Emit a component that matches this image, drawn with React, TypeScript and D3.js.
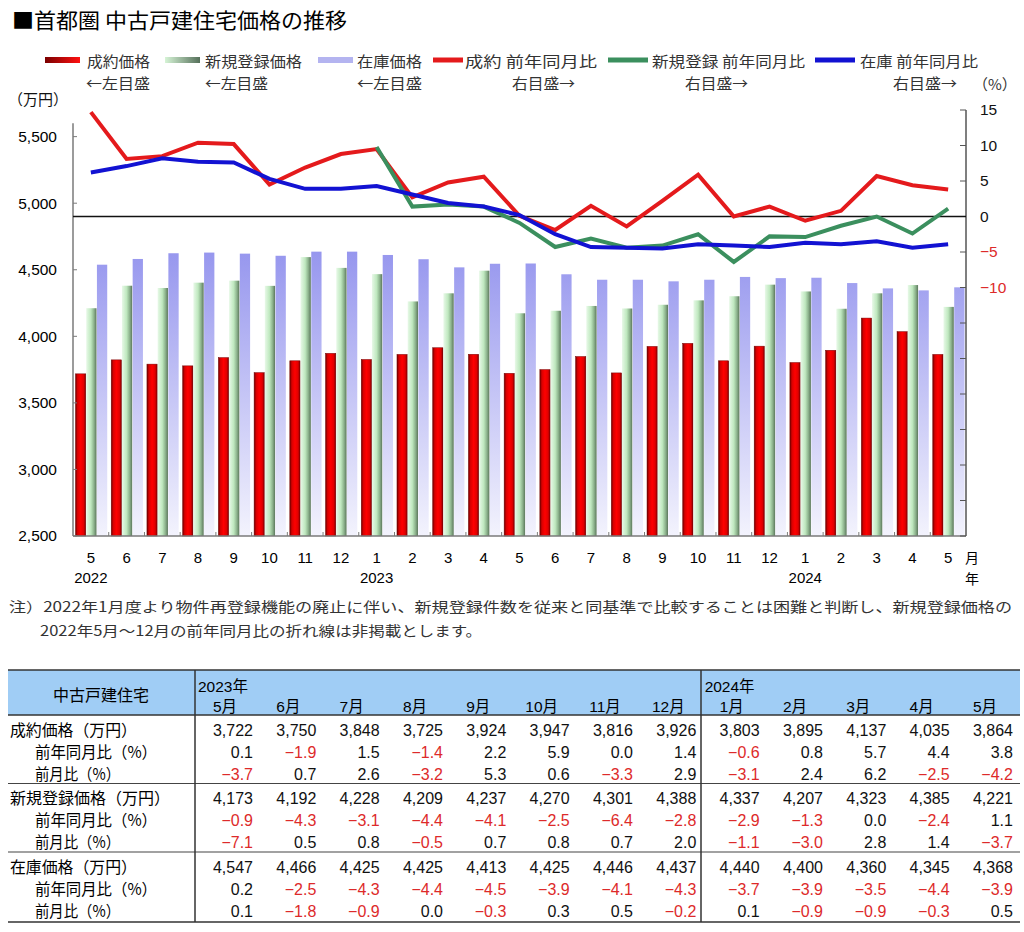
import React, { useRef, useEffect } from "react";
import { select, scaleLinear, scaleBand, line, format } from "d3";

// x categories: 2022/5 .. 2024/5
const months = ["5", "6", "7", "8", "9", "10", "11", "12", "1", "2", "3", "4", "5", "6", "7", "8", "9", "10", "11", "12", "1", "2", "3", "4", "5"];
const yearTicks: [number, string][] = [[0, "2022"], [8, "2023"], [20, "2024"]];

// prices (万円), left axis
const contractPrice = [3718, 3823, 3791, 3778, 3840, 3727, 3816, 3872, 3826, 3864, 3914, 3865, 3722, 3750, 3848, 3725, 3924, 3947, 3816, 3926, 3803, 3895, 4137, 4035, 3864];
const newListingPrice = [4211, 4380, 4363, 4403, 4418, 4379, 4595, 4514, 4467, 4262, 4323, 4493, 4173, 4192, 4228, 4209, 4237, 4270, 4301, 4388, 4337, 4207, 4323, 4385, 4221];
const stockPrice = [4538, 4581, 4624, 4629, 4621, 4605, 4636, 4636, 4611, 4579, 4518, 4545, 4547, 4466, 4425, 4425, 4413, 4425, 4446, 4437, 4440, 4400, 4360, 4345, 4368];

// year-on-year (%), right axis
const contractYoY = [14.7, 8.1, 8.5, 10.4, 10.2, 4.5, 6.9, 8.8, 9.5, 2.7, 4.8, 5.6, 0.1, -1.9, 1.5, -1.4, 2.2, 5.9, 0.0, 1.4, -0.6, 0.8, 5.7, 4.4, 3.8];
const newListingYoY = [null, null, null, null, null, null, null, null, 9.8, 1.4, 1.7, 1.4, -0.9, -4.3, -3.1, -4.4, -4.1, -2.5, -6.4, -2.8, -2.9, -1.3, 0.0, -2.4, 1.1];
const stockYoY = [6.2, 7.1, 8.2, 7.7, 7.6, 5.3, 3.9, 3.9, 4.3, 3.1, 1.9, 1.4, 0.2, -2.5, -4.3, -4.4, -4.5, -3.9, -4.1, -4.3, -3.7, -3.9, -3.5, -4.4, -3.9];

// month-on-month (%), table only
const contractMoM = [-3.7, 0.7, 2.6, -3.2, 5.3, 0.6, -3.3, 2.9, -3.1, 2.4, 6.2, -2.5, -4.2];
const newListingMoM = [-7.1, 0.5, 0.8, -0.5, 0.7, 0.8, 0.7, 2.0, -1.1, -3.0, 2.8, 1.4, -3.7];
const stockMoM = [0.1, -1.8, -0.9, 0.0, -0.3, 0.3, 0.5, -0.2, 0.1, -0.9, -0.9, -0.3, 0.5];

const tableMonths = ["5月", "6月", "7月", "8月", "9月", "10月", "11月", "12月", "1月", "2月", "3月", "4月", "5月"];
const tableYears: [number, string][] = [[0, "2023年"], [8, "2024年"]];

const jp = "'Noto Sans CJK JP', 'Noto Sans', sans-serif";
const num = "'Liberation Sans', Arial, sans-serif";
const RED = "#e41a1c";
const GREEN = "#3b8f5e";
const BLUE = "#1212d2";
const NEG = "#dd2a2a";

const left = 73, right = 966, top = 110, bottom = 536;

const App = () => {
  const svgRef = useRef<SVGSVGElement>(null);

  useEffect(() => {
    const svg = select(svgRef.current);
    const g = svg.select(".chart");
    g.selectAll("*").remove();

    const x = scaleBand<number>().domain(months.map((_, i) => i)).range([left, right]);
    const bw = x.bandwidth();
    const inner = scaleBand<number>().domain([0, 1, 2]).range([2.5, bw - 1.5]).paddingInner(0.04);
    const yL = scaleLinear().domain([2500, 5700]).range([bottom, top]);
    const yR = scaleLinear().domain([-45, 15]).range([bottom, top]);

    // bars
    const series = [
      { values: contractPrice, fill: "url(#gRed)", stroke: "#700" },
      { values: newListingPrice, fill: "url(#gGreen)", stroke: "none" },
      { values: stockPrice, fill: "url(#gBlue)", stroke: "none" },
    ];
    series.forEach((s, k) => {
      g.append("g")
        .selectAll("rect")
        .data(s.values)
        .join("rect")
        .attr("x", (d, i) => (x(i) as number) + (inner(k) as number))
        .attr("width", inner.bandwidth())
        .attr("y", d => yL(d))
        .attr("height", d => bottom - yL(d))
        .attr("fill", s.fill)
        .attr("stroke", s.stroke)
        .attr("stroke-width", 0.5);
    });

    // x axis
    g.append("line").attr("x1", left).attr("x2", right).attr("y1", bottom).attr("y2", bottom)
      .attr("stroke", "#7a7a7a").attr("stroke-width", 1.5);
    g.append("g").selectAll("line").data(months.map((_, i) => i).slice(1))
      .join("line")
      .attr("x1", i => x(i) as number).attr("x2", i => x(i) as number)
      .attr("y1", bottom - 4).attr("y2", bottom)
      .attr("stroke", "#7a7a7a");
    g.append("g").selectAll("text").data(months)
      .join("text")
      .attr("x", (d, i) => (x(i) as number) + bw / 2)
      .attr("y", 563)
      .attr("text-anchor", "middle")
      .attr("font-family", num).attr("font-size", 15)
      .text(d => d);
    g.append("g").selectAll("text").data(yearTicks)
      .join("text")
      .attr("x", d => (x(d[0]) as number) + bw / 2)
      .attr("y", 583)
      .attr("text-anchor", "middle")
      .attr("font-family", num).attr("font-size", 15)
      .text(d => d[1]);

    // left axis
    g.append("line").attr("x1", left).attr("x2", left).attr("y1", yL(5600)).attr("y2", bottom)
      .attr("stroke", "#7a7a7a").attr("stroke-width", 1.5);
    const lt = g.append("g").selectAll("g").data(yL.ticks(7)).join("g")
      .attr("transform", d => `translate(0,${yL(d)})`);
    lt.append("line").attr("x1", left).attr("x2", left + 4).attr("stroke", "#7a7a7a");
    lt.append("text").attr("x", 57).attr("dy", "0.35em").attr("text-anchor", "end")
      .attr("font-family", num).attr("font-size", 15.5)
      .text(d => format(",")(d));

    // right axis
    g.append("line").attr("x1", right).attr("x2", right).attr("y1", top).attr("y2", bottom)
      .attr("stroke", "#555").attr("stroke-width", 1.5);
    const rt = g.append("g").selectAll("g").data(yR.ticks(12)).join("g")
      .attr("transform", d => `translate(0,${yR(d)})`);
    rt.append("line").attr("x1", right - 6).attr("x2", right).attr("stroke", "#555");
    rt.filter(d => d >= -10).append("text").attr("x", 980).attr("dy", "0.35em")
      .attr("font-family", num).attr("font-size", 15.5)
      .attr("fill", d => (d < 0 ? NEG : "#111"))
      .text(d => format("")(d));

    // zero line
    g.append("line").attr("x1", left).attr("x2", right).attr("y1", yR(0)).attr("y2", yR(0))
      .attr("stroke", "#111").attr("stroke-width", 1.5);

    // yoy lines
    const yoyLine = line<number | null>()
      .defined(d => d != null)
      .x((d, i) => (x(i) as number) + bw / 2)
      .y(d => yR(d as number));
    [
      { values: contractYoY, color: RED },
      { values: newListingYoY, color: GREEN },
      { values: stockYoY, color: BLUE },
    ].forEach(s => {
      g.append("path")
        .datum(s.values)
        .attr("d", yoyLine)
        .attr("fill", "none")
        .attr("stroke", s.color)
        .attr("stroke-width", 4)
        .attr("stroke-linejoin", "miter");
    });
  }, []);

  const fmtInt = format(",");
  const fmtPct = format(".1f");
  const colRight = (i: number) => 253 + i * 63.33;
  const tableGroups = [
    { label: "成約価格（万円）", price: contractPrice.slice(12), yoy: contractYoY.slice(12), mom: contractMoM },
    { label: "新規登録価格（万円）", price: newListingPrice.slice(12), yoy: (newListingYoY.slice(12) as number[]), mom: newListingMoM },
    { label: "在庫価格（万円）", price: stockPrice.slice(12), yoy: stockYoY.slice(12), mom: stockMoM },
  ];

  const legendTop = [
    { sx: 45, sw: 35, kind: "bar", fill: "url(#lgRed)", text: "成約価格", tx: 87, tl: 63, sub: "←左目盛", ux: 86, ul: 64 },
    { sx: 165, sw: 35, kind: "bar", fill: "url(#lgGreen)", text: "新規登録価格", tx: 205, tl: 97, sub: "←左目盛", ux: 205, ul: 63 },
    { sx: 318, sw: 35, kind: "bar", fill: "#b4b4f0", text: "在庫価格", tx: 357, tl: 65, sub: "←左目盛", ux: 357, ul: 65 },
    { sx: 433, sw: 30, kind: "line", fill: RED, text: "成約 前年同月比", tx: 465, tl: 132, sub: "右目盛→", ux: 512, ul: 63 },
    { sx: 608, sw: 40, kind: "line", fill: GREEN, text: "新規登録 前年同月比", tx: 652, tl: 153, sub: "右目盛→", ux: 685, ul: 63 },
    { sx: 815, sw: 40, kind: "line", fill: BLUE, text: "在庫 前年同月比", tx: 860, tl: 118, sub: "右目盛→", ux: 893, ul: 64 },
  ];

  return (
    <svg ref={svgRef} width={1024} height={932} style={{ position: "absolute", left: 0, top: 0, background: "#fff" }}>
      <defs>
        <linearGradient id="gRed" x1="0" x2="1" y1="0" y2="0">
          <stop offset="0" stopColor="#6a0000" />
          <stop offset="0.2" stopColor="#d80000" />
          <stop offset="0.5" stopColor="#ff0000" />
          <stop offset="0.8" stopColor="#e00000" />
          <stop offset="1" stopColor="#7a0000" />
        </linearGradient>
        <linearGradient id="gGreen" x1="0" x2="1" y1="0" y2="0">
          <stop offset="0" stopColor="#e8f9e8" />
          <stop offset="0.45" stopColor="#bfe8bf" />
          <stop offset="0.75" stopColor="#8db38d" />
          <stop offset="1" stopColor="#5b765c" />
        </linearGradient>
        <linearGradient id="gBlue" gradientUnits="userSpaceOnUse" x1="0" x2="0" y1="250" y2="536">
          <stop offset="0" stopColor="#9696ee" />
          <stop offset="1" stopColor="#f3f3fd" />
        </linearGradient>
        <linearGradient id="lgRed" x1="0" x2="1" y1="0" y2="0">
          <stop offset="0" stopColor="#7a0000" />
          <stop offset="1" stopColor="#ff1010" />
        </linearGradient>
        <linearGradient id="lgGreen" x1="0" x2="1" y1="0" y2="0">
          <stop offset="0" stopColor="#d6f4d6" />
          <stop offset="1" stopColor="#55705a" />
        </linearGradient>
      </defs>

      <text x={12} y={28} fontFamily={jp} fontSize={21} fontWeight={400} textLength={335} lengthAdjust="spacingAndGlyphs">■首都圏 中古戸建住宅価格の推移</text>

      {legendTop.map((l, i) => (
        <g key={i}>
          {l.kind === "bar"
            ? <rect x={l.sx} y={57} width={l.sw} height={6} fill={l.fill} />
            : <line x1={l.sx} x2={l.sx + l.sw} y1={60} y2={60} stroke={l.fill} strokeWidth={5} />}
          <text x={l.tx} y={67} fontFamily={jp} fontSize={15} fill="#333" textLength={l.tl} lengthAdjust="spacingAndGlyphs">{l.text}</text>
          <text x={l.ux} y={89} fontFamily={jp} fontSize={15} fill="#333" textLength={l.ul} lengthAdjust="spacingAndGlyphs">{l.sub}</text>
        </g>
      ))}
      <text x={973} y={90} fontFamily={jp} fontSize={15} fill="#333">（%）</text>
      <text x={8} y={105} fontFamily={jp} fontSize={15} fill="#111">（万円）</text>

      <g className="chart" />

      <text x={965} y={563} fontFamily={jp} fontSize={14}>月</text>
      <text x={965} y={584} fontFamily={jp} fontSize={14}>年</text>

      <text x={9} y={612} fontFamily={jp} fontSize={14} fill="#333" textLength={1003} lengthAdjust="spacingAndGlyphs">注）2022年1月度より物件再登録機能の廃止に伴い、新規登録件数を従来と同基準で比較することは困難と判断し、新規登録価格の</text>
      <text x={40} y={636} fontFamily={jp} fontSize={14} fill="#333" textLength={442} lengthAdjust="spacingAndGlyphs">2022年5月～12月の前年同月比の折れ線は非掲載とします。</text>

      {/* table */}
      <rect x={8} y={670} width={1012} height={45} fill="#a0cdf5" />
      <text x={101} y={701} textAnchor="middle" fontFamily={jp} fontSize={16}>中古戸建住宅</text>
      {tableYears.map(([i, t]) => (
        <text key={t} x={colRight(i) - 55} y={692} fontFamily={num} fontSize={15.5}>
          {t.slice(0, 4)}<tspan fontFamily={jp}>{t.slice(4)}</tspan>
        </text>
      ))}
      {tableMonths.map((m, i) => (
        <text key={i} x={colRight(i) - 28} y={712} textAnchor="middle" fontFamily={num} fontSize={15.5}>
          {m.slice(0, -1)}<tspan fontFamily={jp}>月</tspan>
        </text>
      ))}
      {tableGroups.map((grp, gi) => {
        const y0 = 715 + gi * 68.5;
        const rows = [
          { label: grp.label, lx: 10, lw: gi === 1 ? 160 : 127, vals: grp.price, pct: false },
          { label: "前年同月比（%）", lx: 35, lw: 122, vals: grp.yoy, pct: true },
          { label: "前月比（%）", lx: 35, lw: 85, vals: grp.mom, pct: true },
        ];
        return rows.map((r, ri) => (
          <g key={`${gi}-${ri}`}>
            <text x={r.lx} y={y0 + 20.5 + ri * 22} fontFamily={jp} fontSize={16} textLength={r.lw} lengthAdjust="spacingAndGlyphs">{r.label}</text>
            {r.vals.map((v, i) => (
              <text key={i} x={colRight(i)} y={y0 + 20.5 + ri * 22} textAnchor="end" fontFamily={num} fontSize={16}
                fill={r.pct && v < 0 ? NEG : "#111"}>
                {r.pct ? fmtPct(v) : fmtInt(v)}
              </text>
            ))}
          </g>
        ));
      })}
      {[670, 715, 922].map(y => <line key={y} x1={8} x2={1020} y1={y} y2={y} stroke="#333" strokeWidth={1.5} />)}
      {[783.5, 852].map(y => <line key={y} x1={8} x2={1020} y1={y} y2={y} stroke="#444" strokeWidth={1.2} />)}
      {[195, 701].map(xv => <line key={xv} x1={xv} x2={xv} y1={670} y2={922} stroke="#333" strokeWidth={1.5} />)}
    </svg>
  );
};

export default App;
